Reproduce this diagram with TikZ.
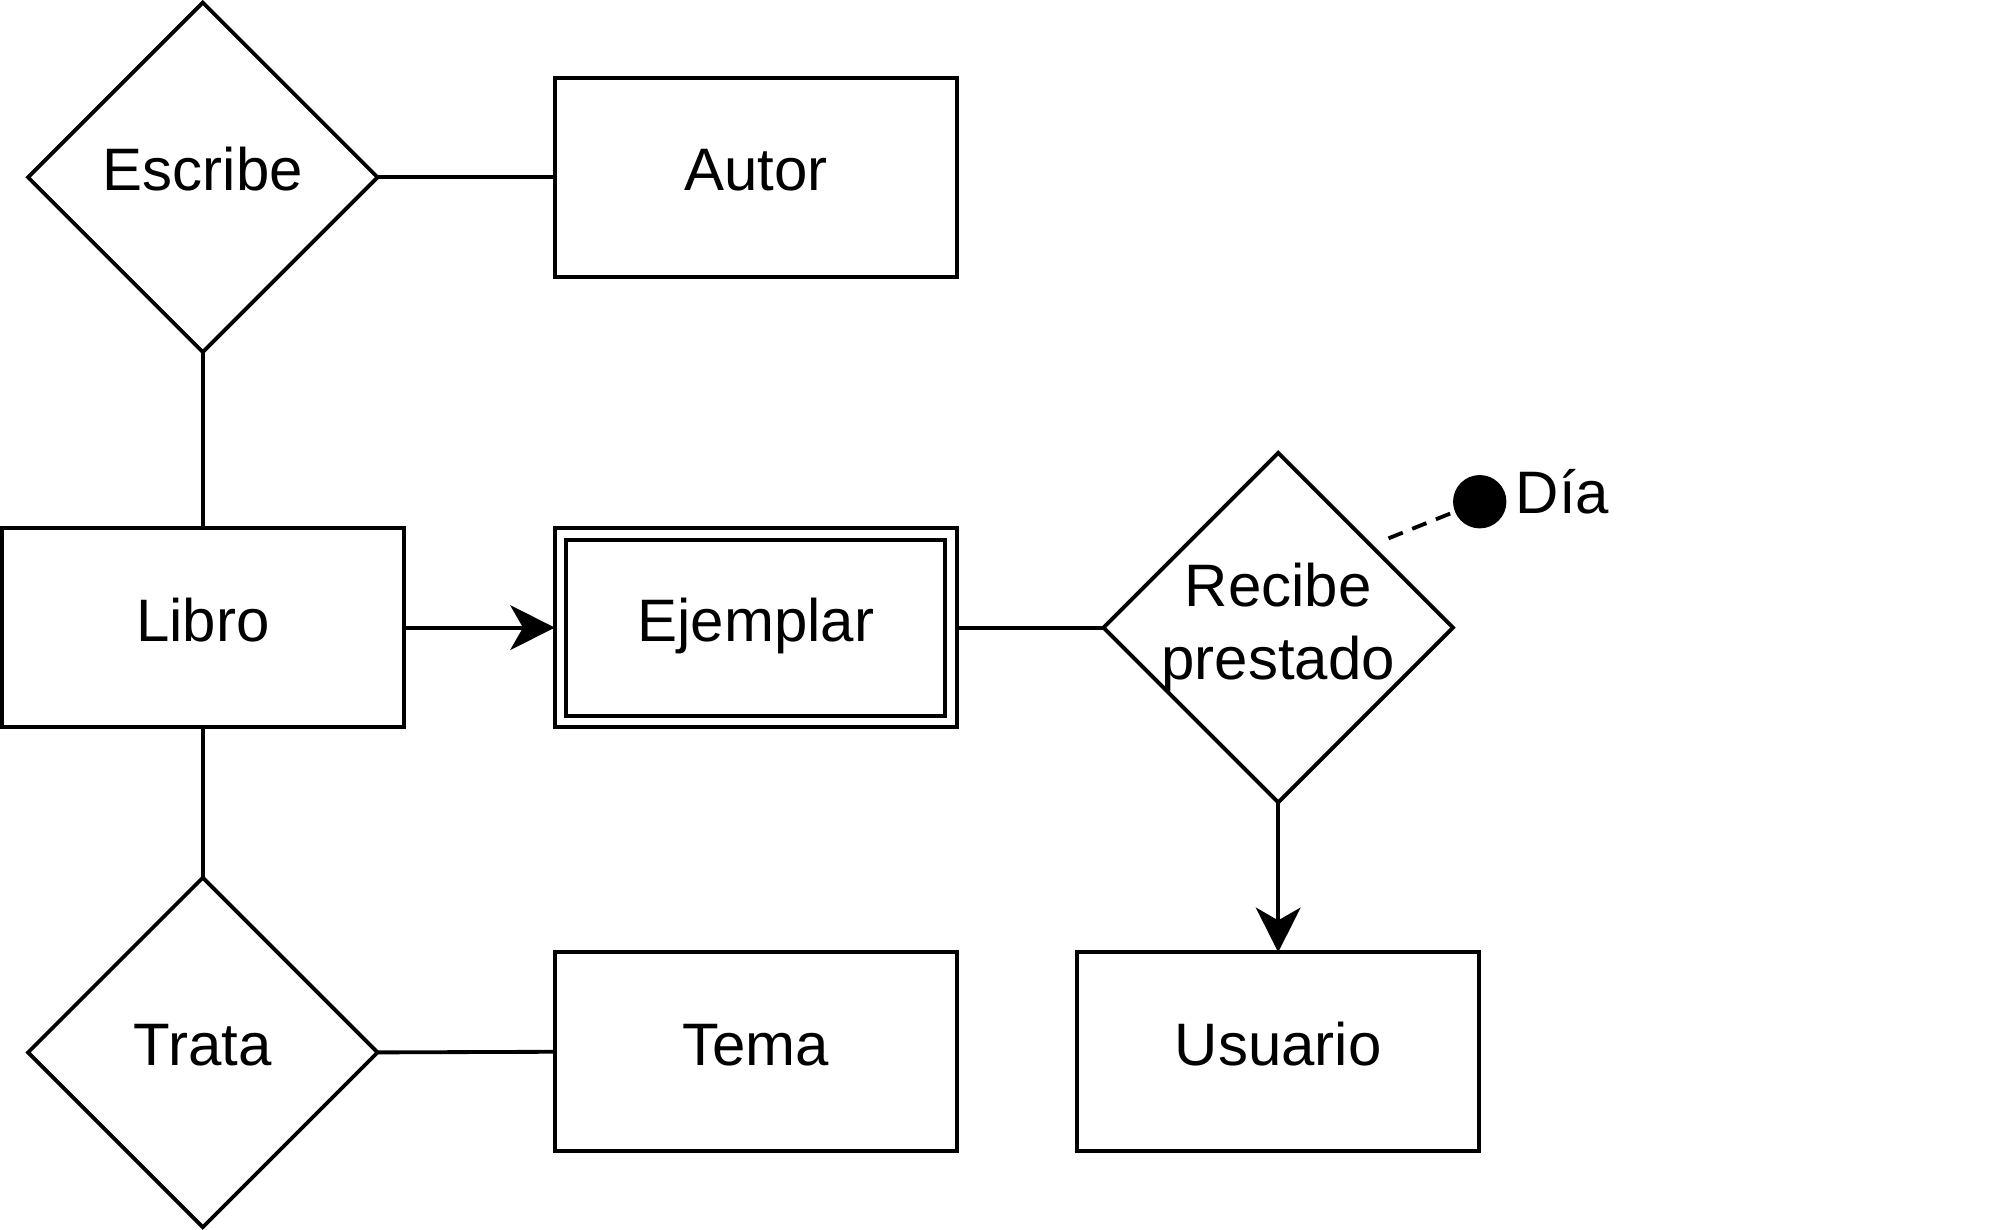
\documentclass[tikz,border=0pt]{standalone}
\usepackage{fontspec}
\setmainfont{Liberation Sans}
\usetikzlibrary{shapes.geometric,arrows.meta}
\tikzset{
  lbl/.style={font=\fontsize{23.5}{28.8}\selectfont},
  ent/.style={draw, lbl, line width=1.5pt, minimum width=157.5pt, minimum height=78pt,
    inner sep=0pt, outer sep=0pt, text height=17pt, text depth=6.5pt},
  rel/.style={draw, diamond, lbl, line width=1.5pt, minimum width=137pt, minimum height=137pt,
    aspect=1, inner sep=0pt, outer sep=0pt, align=center},
  onerel/.style={rel, text height=17pt, text depth=6.5pt},
  conn/.style={line width=1.5pt},
  arr/.style={conn, -{Stealth[length=17.5pt, width=17.5pt, inset=5pt]}},
  attrdot/.style={circle, fill=black, draw=black, minimum size=20.5pt, inner sep=0pt, outer sep=0pt},
  attrline/.style={line width=1.5pt, dash pattern=on 6pt off 4pt}
}
\begin{document}
\begin{tikzpicture}[x=0.5pt, y=-0.5pt]
\useasboundingbox (0,0) rectangle (1560,964.2);
% nodes
\node[onerel] (escribe) at (159,139) {Escribe};
\node[ent] (autor) at (592.5,139) {Autor};
\node[ent] (libro) at (159,492) {Libro};
\node[ent] (ejemplar) at (592.5,492) {Ejemplar};
\draw[line width=1.5pt] ([shift={(4.5pt,-4.5pt)}]ejemplar.north west) rectangle ([shift={(-4.5pt,4.5pt)}]ejemplar.south east);
\node[rel, inner sep=-8pt] (recibe) at (1002,492) {Recibe\\prestado};
\node[ent] (usuario) at (1002,824.5) {Usuario};
\node[onerel] (trata) at (159,825) {Trata};
\node[ent] (tema) at (592.5,824.5) {Tema};
\node[attrdot] (dot) at (1160,393.3) {};
\node[lbl, anchor=base west, inner sep=0pt] (dia) at (1188,402.3) {Día};
\coordinate (dstart) at (1088.5,422);
% connectors
\draw[conn] (escribe.east) -- (autor.west);
\draw[conn] (escribe.south) -- (libro.north);
\draw[arr] (libro.east) -- (ejemplar.west);
\draw[conn] (ejemplar.east) -- (recibe.west);
\draw[arr] (recibe.south) -- (usuario.north);
\draw[conn] (libro.south) -- (trata.north);
\draw[conn] (trata.east) -- (tema.west);
\draw[attrline] (dstart) -- (dot);
\end{tikzpicture}
\end{document}
